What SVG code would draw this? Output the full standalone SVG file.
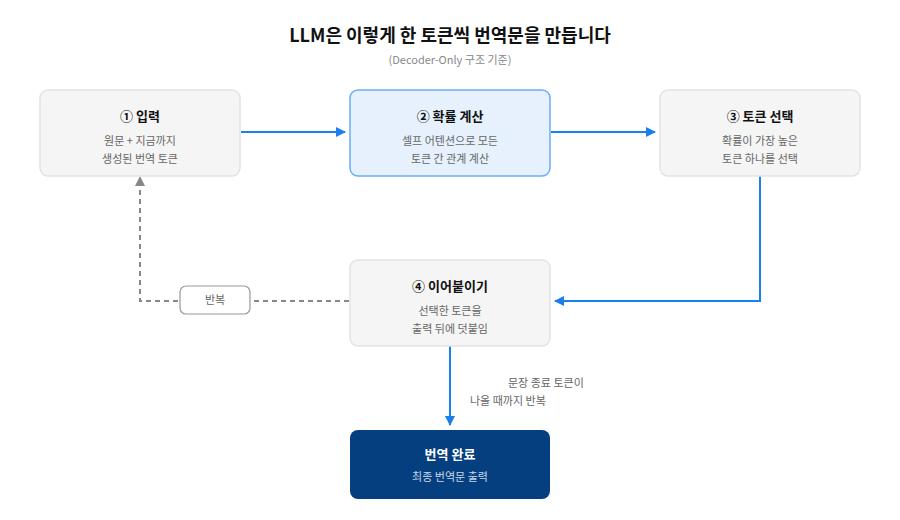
<svg xmlns="http://www.w3.org/2000/svg" width="900" height="520" viewBox="0 0 900 520">
<style>
text{font-family:"Noto Sans CJK KR","Noto Sans",sans-serif;text-anchor:middle}
.t{font-size:13px;font-weight:700;fill:#111}
.s{font-size:11px;fill:#666}
.box{fill:#f5f5f5;stroke:#e3e3e3;stroke-width:1.5}
.blue{stroke:#1a7fef;stroke-width:2;fill:none}
</style>
<defs>
<marker id="ab" markerWidth="10" markerHeight="10" refX="9" refY="5" orient="auto" markerUnits="userSpaceOnUse" viewBox="0 0 10 10"><path d="M0,0L10,5L0,10z" fill="#1a7fef"/></marker>
<marker id="ag" markerWidth="10" markerHeight="12" refX="9" refY="5" orient="auto" markerUnits="userSpaceOnUse" viewBox="0 0 10 10"><path d="M0,0L10,5L0,10z" fill="#888"/></marker>
</defs>
<rect width="900" height="520" fill="#fff"/>
<text x="450" y="42" style="font-size:18px;font-weight:700;fill:#111">LLM은 이렇게 한 토큰씩 번역문을 만듭니다</text>
<text x="450" y="64" class="s" style="fill:#888">(Decoder-Only 구조 기준)</text>
<g id="connectors">
<path class="blue" d="M241,132H345" marker-end="url(#ab)"/>
<path class="blue" d="M551,132H655" marker-end="url(#ab)"/>
<path class="blue" d="M760,176V301H555" marker-end="url(#ab)"/>
<path class="blue" d="M450,345V425" marker-end="url(#ab)"/>
<path d="M349,301H140V177" fill="none" stroke="#888" stroke-width="2" stroke-dasharray="5,4" marker-end="url(#ag)"/>
<rect x="180" y="286" width="70" height="28" rx="6" fill="#fff" stroke="#999" stroke-width="1.2"/>
<text x="215" y="304" class="s">반복</text>
<text x="508" y="387" class="s" style="text-anchor:start" x-dummy="">문장 종료 토큰이</text>
<text x="470" y="405" class="s" style="text-anchor:start">나올 때까지 반복</text>
</g>
<g id="n1"><rect class="box" x="40" y="90" width="200" height="86" rx="8"/><text x="140" y="121" class="t">① 입력</text><text x="140" y="145" class="s">원문 + 지금까지</text><text x="140" y="163" class="s">생성된 번역 토큰</text></g>
<g id="n2"><rect x="350" y="90" width="200" height="86" rx="8" fill="#e6f1fd" stroke="#6aaef5" stroke-width="1.5"/><text x="450" y="121" class="t">② 확률 계산</text><text x="450" y="145" class="s">셀프 어텐션으로 모든</text><text x="450" y="163" class="s">토큰 간 관계 계산</text></g>
<g id="n3"><rect class="box" x="660" y="90" width="200" height="86" rx="8"/><text x="760" y="121" class="t">③ 토큰 선택</text><text x="760" y="145" class="s">확률이 가장 높은</text><text x="760" y="163" class="s">토큰 하나를 선택</text></g>
<g id="n4"><rect class="box" x="350" y="260" width="200" height="86" rx="8"/><text x="450" y="291" class="t">④ 이어붙이기</text><text x="450" y="315" class="s">선택한 토큰을</text><text x="450" y="333" class="s">출력 뒤에 덧붙임</text></g>
<g id="n5"><rect x="350" y="430" width="200" height="69" rx="8" fill="#053f7f"/><text x="450" y="459" class="t" style="fill:#fff">번역 완료</text><text x="450" y="481" class="s" style="fill:#c5d6ea">최종 번역문 출력</text></g>
</svg>
